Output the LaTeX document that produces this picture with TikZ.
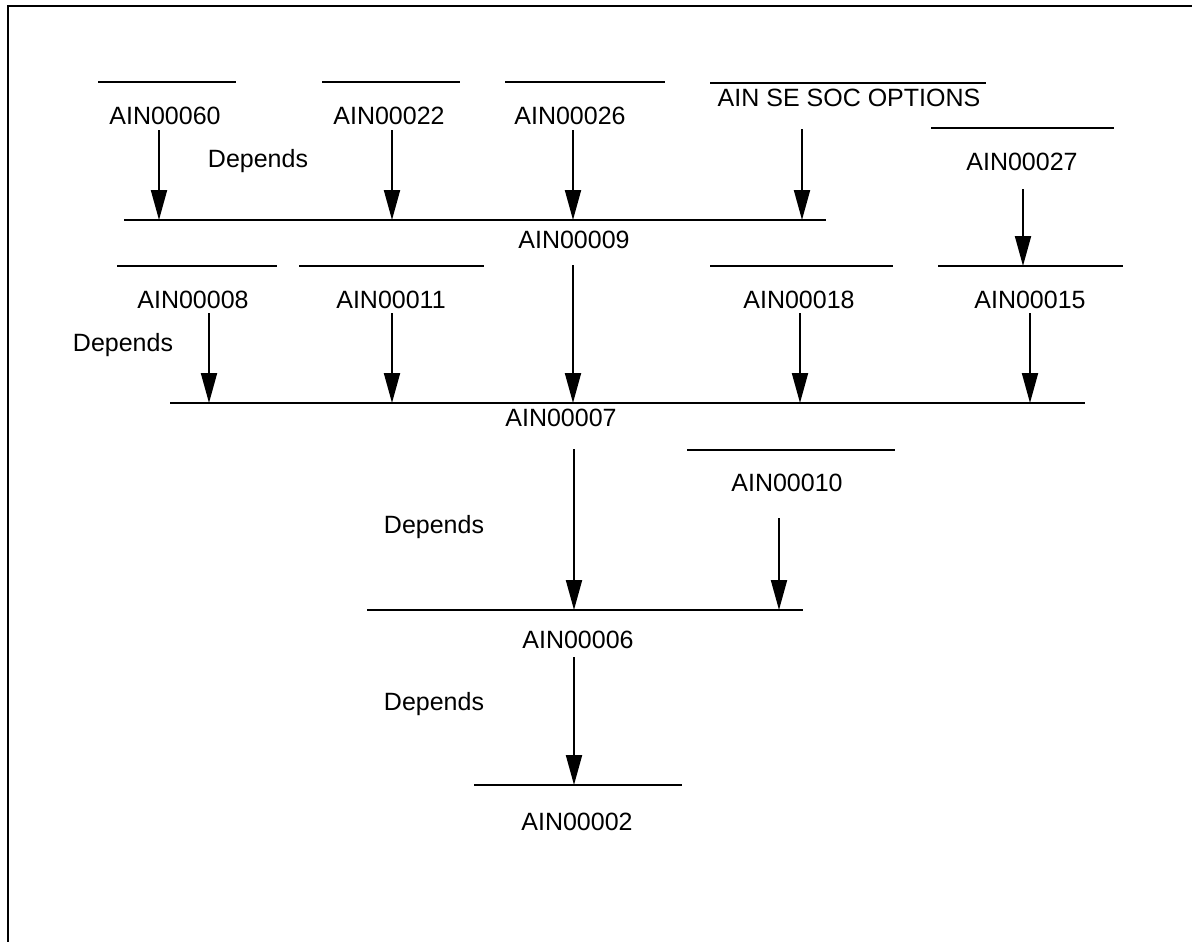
\documentclass[tikz,border=0pt]{standalone}
\usepackage{fontspec}
\setmainfont{Liberation Sans}
\usetikzlibrary{arrows.meta}
\begin{document}
\begin{tikzpicture}[x=1pt,y=-1pt,
  lbl/.style={inner sep=0pt,font=\fontsize{25}{30}\selectfont},
  bar/.style={line width=2pt},
  dep/.style={line width=2pt,-{Triangle[length=30pt,width=16pt]}},
  frame/.style={line width=2.4pt}]
\useasboundingbox (0,0) rectangle (1192,942);
% outer frame (top and left edges)
\draw[frame] (8,942) -- (8,6) -- (1192,6);

% top row
\draw[bar] (98,82) -- (236,82);
\node[lbl] (n60) at (165,116) {AIN00060};
\draw[bar] (322,82) -- (460,82);
\node[lbl] (n22) at (389,116) {AIN00022};
\draw[bar] (505,82) -- (665,82);
\node[lbl] (n26) at (570,116) {AIN00026};
\draw[bar] (710,83) -- (986,83);
\node[lbl] (nsoc) at (849,98) {AIN SE SOC OPTIONS};
\draw[bar] (931,128) -- (1114,128);
\node[lbl] (n27) at (1022,162) {AIN00027};
\node[lbl] (d1) at (258,161) {Depends};

% AIN00009 bar
\draw[bar] (124,220) -- (826,220);
\node[lbl] (n09) at (574,240) {AIN00009};
\coordinate (t60) at (159,220);
\coordinate (t22) at (392,220);
\coordinate (t26) at (573,220);
\coordinate (tsoc) at (802,220);
\draw[dep] (159,130) -- (t60);
\draw[dep] (392,130) -- (t22);
\draw[dep] (573,130) -- (t26);
\draw[dep] (802,129) -- (tsoc);

% second row
\draw[bar] (117,266) -- (277,266);
\node[lbl] (n08) at (193,300) {AIN00008};
\draw[bar] (299,266) -- (484,266);
\node[lbl] (n11) at (391,300) {AIN00011};
\draw[bar] (710,266) -- (893,266);
\node[lbl] (n18) at (799,300) {AIN00018};
\draw[bar] (938,266) -- (1123,266);
\node[lbl] (n15) at (1030,300) {AIN00015};
\node[lbl] (d2) at (123,345) {Depends};
\coordinate (h15) at (1023,266);
\draw[dep] (1023,189) -- (h15);

% AIN00007 bar
\draw[bar] (170,403) -- (1085,403);
\node[lbl] (n07) at (561,418) {AIN00007};
\coordinate (t08) at (209,403);
\coordinate (t11) at (392,403);
\coordinate (t09) at (573,403);
\coordinate (t18) at (800,403);
\coordinate (t15) at (1030,403);
\draw[dep] (209,313) -- (t08);
\draw[dep] (392,313) -- (t11);
\draw[dep] (573,265) -- (t09);
\draw[dep] (800,313) -- (t18);
\draw[dep] (1030,313) -- (t15);

% AIN00010
\draw[bar] (687,450) -- (895,450);
\node[lbl] (n10) at (787,483) {AIN00010};
\node[lbl] (d3) at (434,527) {Depends};

% AIN00006 bar
\draw[bar] (367,610) -- (803,610);
\node[lbl] (n06) at (578,640) {AIN00006};
\coordinate (t07) at (574,610);
\coordinate (t10) at (779,610);
\draw[dep] (574,449) -- (t07);
\draw[dep] (779,518) -- (t10);
\node[lbl] (d4) at (434,704) {Depends};

% AIN00002 bar
\draw[bar] (474,785) -- (682,785);
\node[lbl] (n02) at (577,822) {AIN00002};
\coordinate (t06) at (574,785);
\draw[dep] (574,657) -- (t06);
\end{tikzpicture}
\end{document}
